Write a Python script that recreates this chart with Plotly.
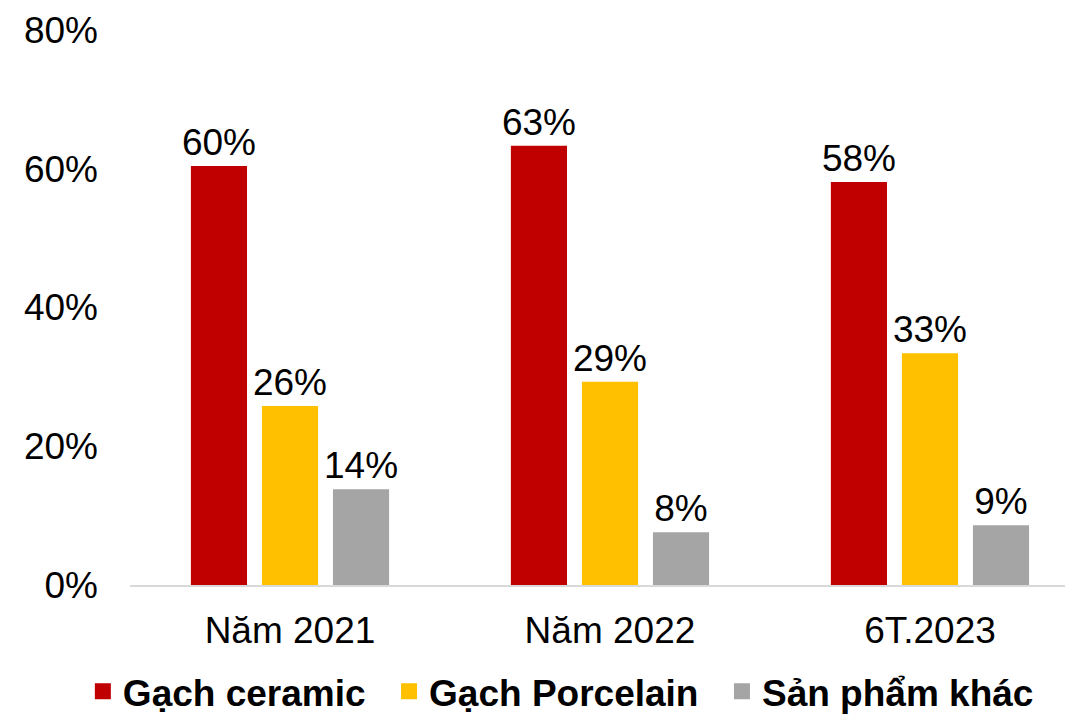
import plotly.graph_objects as go

periods = ["Năm 2021", "Năm 2022", "6T.2023"]
ceramic = [60.4, 63.3, 58.1]
porcelain = [25.8, 29.3, 33.4]
khac = [13.8, 7.6, 8.6]

names = ["Gạch ceramic", "Gạch Porcelain", "Sản phẩm khác"]
colors = ["#C00000", "#FFC000", "#A5A5A5"]
y_ticks = [0, 20, 40, 60, 80]
y_ticktext = ["0%", "20%", "40%", "60%", "80%"]

fig = go.Figure()

for name, vals, col in zip(names, [ceramic, porcelain, khac], colors):
    fig.add_trace(go.Bar(
        x=periods, y=vals, name=name, marker_color=col, marker_line_width=0,
        texttemplate="%{y:.0f}%", textposition="outside", constraintext="none",
        textfont=dict(size=37, color="black"), cliponaxis=False,
        showlegend=False,
    ))
    # legend entry with a bigger square (en space widens the gap between items)
    fig.add_trace(go.Scatter(
        x=[None], y=[None], mode="markers", name=name + "\u2002",
        marker=dict(symbol="square", size=19, color=col),
    ))

# page body has an 8px margin, so the figure is 8px smaller each way
fig.update_layout(
    width=1065, height=708,
    margin=dict(l=122, r=0, t=22, b=131, autoexpand=False),
    plot_bgcolor="white", paper_bgcolor="white",
    font=dict(family="Liberation Sans, Arial, sans-serif", size=37, color="black"),
    barmode="group", bargap=0.334, bargroupgap=0.21,
    showlegend=True,
    legend=dict(
        orientation="h", x=-0.05, xanchor="left",
        y=-0.248, yanchor="bottom",
        font=dict(size=37, color="black", weight="bold"),
        itemsizing="trace", traceorder="normal",
    ),
)
fig.update_xaxes(
    range=[-0.5, 2.447], showgrid=False, showline=True, automargin=False,
    linecolor="#D9D9D9", linewidth=2, ticks="", ticklabelstandoff=12,
)
fig.update_yaxes(
    range=[0, 80], tickvals=y_ticks, ticktext=y_ticktext, showgrid=False,
    zeroline=False, showline=False, ticklabelstandoff=31, automargin=False,
)

fig.write_html("out.html")
